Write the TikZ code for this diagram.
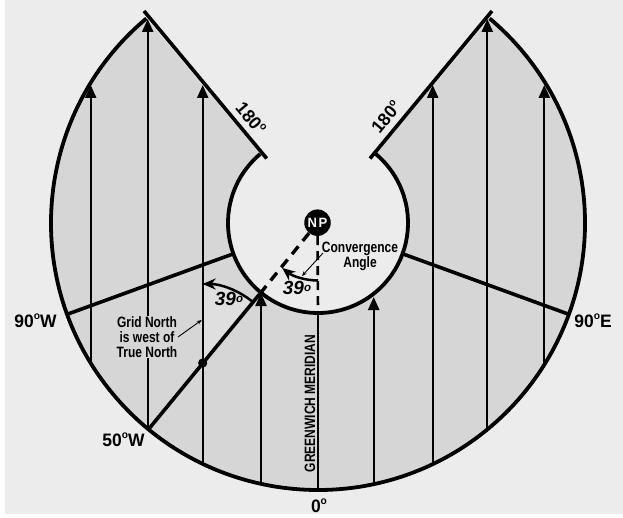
\documentclass[tikz,border=0pt]{standalone}
\usepackage{fontspec}
\setmainfont{Liberation Sans}
\newfontfamily\lblfont[FakeStretch=0.97]{Liberation Sans Bold}
\newfontfamily\condfont[FakeStretch=0.8]{Liberation Sans Bold}
\newfontfamily\gmfont[FakeStretch=0.8]{Liberation Sans Bold}
\newfontfamily\itfont{Liberation Sans Bold Italic}
\usetikzlibrary{arrows.meta,calc}
\definecolor{bgc}{HTML}{ECECEC}
\definecolor{zone}{HTML}{D6D6D6}
\definecolor{lite}{HTML}{DFDFDF}
\newcommand{\degsym}{\raisebox{0.42em}{\fontsize{10.5}{10.5}\selectfont o}}
\tikzset{
  x=1pt,y=1pt,
  rim/.style={line width=3.8pt,line cap=butt},
  heavy/.style={line width=3.6pt},
  gridln/.style={line width=2.3pt,-{Triangle[length=13pt,width=11pt]}},
  plainln/.style={line width=2.5pt},
  dashln/.style={line width=3.4pt,dash pattern=on 10pt off 7pt},
  thinarrow/.style={line width=0.9pt,-{Stealth[length=5pt,width=4pt]}},
  anglearc/.style={line width=2.5pt,-{Stealth[length=13pt,width=11pt]}},
  biglabel/.style={font=\lblfont\fontsize{18}{20}\selectfont,inner sep=0pt},
  smalllabel/.style={font=\condfont\fontsize{15}{15}\selectfont,align=center,inner sep=0.5pt},
  anglelabel/.style={font=\itfont\fontsize{19}{20}\selectfont,inner sep=0pt},
}
\begin{document}
\begin{tikzpicture}
\useasboundingbox (0,0) rectangle (623,-518);
\fill[white] (0,0) rectangle (623,-518);
\fill[bgc] (5,0) rectangle (623,-514);
\coordinate (C) at (318,-223);
\coordinate (dot) at (202.7,-363);
% zone
\fill[zone] ($(C)+(50:267)$) -- ($(C)+(50:90)$) arc[start angle=50,end angle=-230,radius=90]
  -- ($(C)+(130:267)$) arc[start angle=130,end angle=410,radius=267] -- cycle;
\fill[lite] (dot) -- ($(dot)+(90:78)$) arc[start angle=90,end angle=51,radius=78] -- cycle;
% vertical grid lines
\foreach \xx/\yb/\yt in {90.7/363/85,147.7/429/19,202.7/464/85,261/484/293,373.7/484/297,432.7/464/85,487.3/430/19,544.3/363/85}
  \draw[gridln] (\xx,-\yb) -- (\xx,-\yt);
% 180 lines
\coordinate (LT) at (144,-11);
\coordinate (LB) at (266.7,-158.5);
\coordinate (RT) at (492,-11);
\coordinate (RB) at (370,-158.5);
\draw[heavy] (LT) -- (LB);
\draw[heavy] (RT) -- (RB);
% 90 lines
\draw[heavy] ($(C)+(200:267)$) -- ($(C)+(200:90)$);
\draw[heavy] ($(C)+(-20:267)$) -- ($(C)+(-20:90)$);
% arcs
\draw[rim] ($(C)+(130:267)$) arc[start angle=130,end angle=410,radius=267];
\draw[rim] ($(C)+(130:90)$) arc[start angle=130,end angle=410,radius=90];
% meridians
\coordinate (gm0) at (318,-490);
\coordinate (gm1) at (318,-313);
\coordinate (w50o) at ($(C)+(230.6:267)$);
\coordinate (w50i) at ($(C)+(230.6:92)$);
\draw[plainln] (gm0) -- (gm1);
\draw[heavy] (w50o) -- (w50i);
\node[circle,fill=black,minimum size=26.5pt,inner sep=0pt,font=\lblfont\fontsize{13.5}{13}\selectfont,text=white] (NP) at (317.5,-222.7) {N\kern1.5pt P};
\draw[dashln] (NP) -- (w50i);
\draw[line width=2.6pt,dash pattern=on 9pt off 6pt] (NP) -- (gm1);
\fill[black] (dot) circle[radius=4.6];
% angle arcs
\draw[anglearc] ($(C)+(-90:57.5)$) arc[start angle=-90,end angle=-128.5,radius=57.5];
\draw[anglearc] ($(dot)+(51:79)$) arc[start angle=51,end angle=90,radius=79];
% labels
\node[anglelabel] (a1) at (297,-288) {39\raisebox{0.15em}{\fontsize{11.5}{11.5}\selectfont o}};
\node[anglelabel] (a2) at (229,-298.5) {39\raisebox{0.15em}{\fontsize{11.5}{11.5}\selectfont o}};
\node[smalllabel,fill=none] (conv) at (360,-256) {Convergence\\Angle};
\coordinate (convtip) at (302,-276);
\draw[thinarrow] (323,-253) -- (convtip);
\node[smalllabel,fill=zone] (grid) at (147,-337) {Grid North\\is west of\\True North};
\coordinate (gridtip) at (201.7,-320);
\draw[thinarrow] (178,-337) -- (gridtip);
\node[biglabel] (w90) at (35.5,-321) {90\degsym W};
\node[biglabel] (e90) at (593,-321) {90\degsym E};
\node[biglabel] (w50) at (123.5,-440) {50\degsym W};
\node[biglabel] (z0) at (319,-506) {0\degsym};
\node[biglabel,rotate=-50,font=\lblfont\fontsize{18}{20}\selectfont] (l180) at (251,-118) {180\degsym};
\node[biglabel,rotate=50,font=\lblfont\fontsize{18}{20}\selectfont] (r180) at (386,-117) {180\degsym};
\node[rotate=90,font=\gmfont\fontsize{15}{15}\selectfont,inner sep=0pt] (gm) at (310,-403.5) {GREENWICH MERIDIAN};
\end{tikzpicture}
\end{document}
